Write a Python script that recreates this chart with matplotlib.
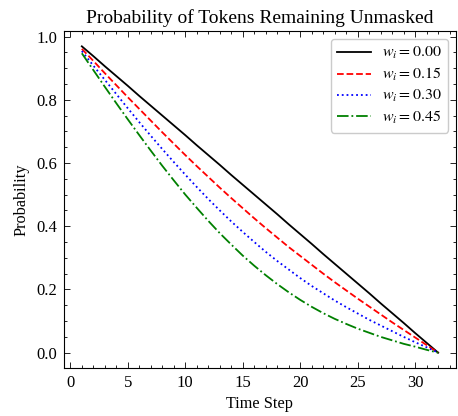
import matplotlib
matplotlib.use("Agg")
import matplotlib.pyplot as plt
from matplotlib.ticker import MultipleLocator

time_steps = list(range(1, 33))
w_labels = [r"$w_i = 0.00$", r"$w_i = 0.15$", r"$w_i = 0.30$", r"$w_i = 0.45$"]
p_w000 = [0.969, 0.938, 0.906, 0.875, 0.844, 0.812, 0.781, 0.750, 0.719, 0.688,
          0.656, 0.625, 0.594, 0.562, 0.531, 0.500, 0.469, 0.438, 0.406, 0.375,
          0.344, 0.312, 0.281, 0.250, 0.219, 0.188, 0.156, 0.125, 0.094, 0.062,
          0.031, 0.000]
p_w015 = [0.961, 0.923, 0.884, 0.846, 0.808, 0.771, 0.734, 0.697, 0.661, 0.625,
          0.590, 0.556, 0.522, 0.489, 0.457, 0.425, 0.394, 0.364, 0.334, 0.306,
          0.278, 0.250, 0.223, 0.197, 0.171, 0.146, 0.121, 0.096, 0.072, 0.048,
          0.024, 0.000]
p_w030 = [0.954, 0.908, 0.863, 0.818, 0.773, 0.729, 0.686, 0.644, 0.603, 0.563,
          0.524, 0.486, 0.450, 0.415, 0.382, 0.350, 0.319, 0.290, 0.263, 0.236,
          0.211, 0.188, 0.165, 0.144, 0.124, 0.104, 0.086, 0.068, 0.050, 0.033,
          0.017, 0.000]
p_w045 = [0.947, 0.894, 0.841, 0.789, 0.738, 0.688, 0.639, 0.591, 0.545, 0.500,
          0.458, 0.417, 0.378, 0.342, 0.307, 0.275, 0.245, 0.217, 0.191, 0.167,
          0.145, 0.125, 0.107, 0.091, 0.076, 0.063, 0.050, 0.039, 0.028, 0.019,
          0.009, 0.000]

series = [p_w000, p_w015, p_w030, p_w045]
colors = ["black", "red", "blue", "green"]
styles = ["-", "--", ":", "-."]

plt.rcParams["font.family"] = ["Liberation Serif", "DejaVu Serif"]
plt.rcParams["mathtext.fontset"] = "stix"

fig = plt.figure(figsize=(4.58, 4.16), dpi=100)
ax = fig.add_axes([64 / 458, 1 - 368 / 416, (456 - 64) / 458, (368 - 31) / 416])

for vals, c, ls, lab in zip(series, colors, styles, w_labels):
    ax.plot(time_steps, vals, color=c, linestyle=ls, linewidth=1.3, label=lab)

ax.set_title("Probability of Tokens Remaining Unmasked", fontsize=14, pad=6)
ax.set_xlabel("Time Step", fontsize=11.7, labelpad=4)
ax.set_ylabel("Probability", fontsize=11.7, labelpad=4.5)

ax.xaxis.set_major_locator(MultipleLocator(5))
ax.xaxis.set_minor_locator(MultipleLocator(1))
ax.yaxis.set_major_locator(MultipleLocator(0.2))
ax.yaxis.set_minor_locator(MultipleLocator(0.05))
ax.tick_params(which="both", direction="in", top=True, right=True, labelsize=12)
ax.tick_params(which="major", length=4.5, width=0.6, pad=5)
ax.tick_params(which="minor", length=2.3, width=0.6)
for sp in ax.spines.values():
    sp.set_linewidth(0.8)

leg = ax.legend(loc="upper right", fontsize=11.5, handlelength=2.1,
                handletextpad=0.7, labelspacing=0.3, borderpad=0.4,
                borderaxespad=0.5, frameon=True, fancybox=True,
                edgecolor="0.75", framealpha=0.8)

fig.savefig("out.png", dpi=100)
